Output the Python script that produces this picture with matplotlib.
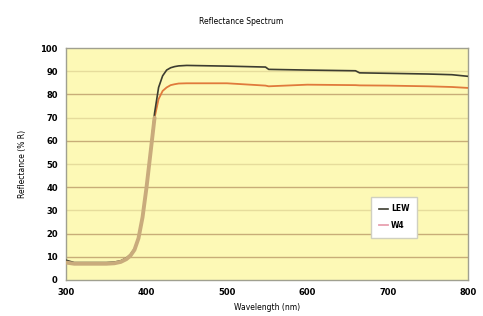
import matplotlib.pyplot as plt

# reflectance spectrum
wavelength = [300, 310, 330, 350, 360, 368, 375, 380, 385, 390, 395, 400, 405, 410, 415, 420,
              425, 430, 435, 440, 450, 500, 548, 552, 600, 660, 665, 700, 750, 780, 800]
lew = [8.5, 7.5, 7.5, 7.5, 7.7, 8.3, 9.5, 11, 13.5, 18, 27, 40, 56, 72, 83, 88,
       90.5, 91.5, 92, 92.3, 92.5, 92.2, 91.8, 90.8, 90.5, 90.2, 89.3, 89.1, 88.8, 88.5, 87.8]
w4 = [7.5, 7, 7, 7, 7.2, 7.8, 9, 10.5, 13, 18, 27, 40, 55, 70, 78, 81.5,
      83, 84, 84.4, 84.7, 84.8, 84.8, 83.8, 83.5, 84.2, 84, 83.9, 83.8, 83.5, 83.2, 82.8]
series_names = ['LEW', 'W4']
x_ticks = [300, 400, 500, 600, 700, 800]
y_ticks = list(range(0, 101, 10))

fig = plt.figure(figsize=(4.83, 3.16), dpi=100)
ax = fig.add_axes([0.137, 0.114, 0.832, 0.734])
ax.set_facecolor('#fdf9b6')

# grid lines, every other one a bit lighter (as in the scan)
for v in y_ticks[1:-1]:
    if v in (10, 20, 40, 60, 80):
        ax.axhline(v, color='#c8ad78', lw=1.0, zorder=1)
    else:
        ax.axhline(v, color='#e6dc9c', lw=1.0, zorder=1)

# thick tan stroke where the two curves overlap
low = [i for i, x in enumerate(wavelength) if x <= 410]
ax.plot(wavelength, w4, color='#e07a3c', lw=1.3, zorder=3, label=series_names[1])
ax.plot(wavelength, lew, color='#3d3d30', lw=1.2, zorder=4, label=series_names[0])
ax.plot([wavelength[i] for i in low], [w4[i] for i in low],
        color='#c9ab7c', lw=2.8, zorder=5, solid_capstyle='round')

ax.set_xlim(300, 800)
ax.set_ylim(0, 100)
ax.set_xticks(x_ticks)
ax.set_yticks(y_ticks)
ax.tick_params(labelsize=6, length=0, pad=6)
for lab in ax.get_xticklabels() + ax.get_yticklabels():
    lab.set_fontweight('bold')
for s in ax.spines.values():
    s.set_color('#a0a090')
    s.set_linewidth(1.0)

ax.set_xlabel('Wavelength (nm)', fontsize=5.5, labelpad=4)
ax.set_ylabel('Reflectance (% R)', fontsize=5.5, labelpad=10)
fig.suptitle('Reflectance Spectrum', fontsize=5.5, y=0.945)

h, l = ax.get_legend_handles_labels()
leg = ax.legend(h[::-1], l[::-1], loc='upper left', bbox_to_anchor=(0.75, 0.375),
                prop={'size': 5.5, 'weight': 'bold'}, frameon=True, fancybox=False,
                handlelength=1.2, borderpad=1.0, labelspacing=1.0, handletextpad=0.4)
leg.get_frame().set_facecolor('white')
leg.get_frame().set_edgecolor('#d0d0c0')
leg.get_frame().set_alpha(1)
leg.get_lines()[1].set_color('#e8a0b0')

fig.savefig('out.png', dpi=100)
